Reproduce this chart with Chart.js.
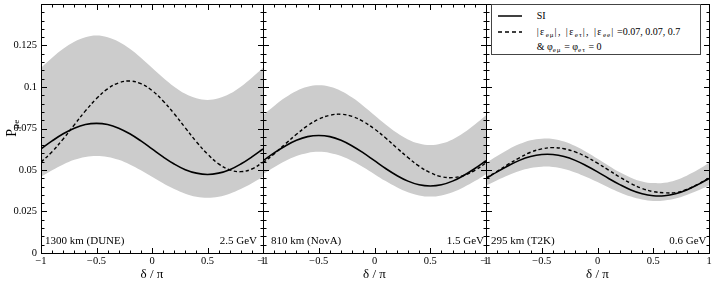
<!DOCTYPE html>
<html><head><meta charset="utf-8">
<script src="https://cdn.jsdelivr.net/npm/chart.js@4.4.0/dist/chart.umd.min.js"></script>
<style>
html,body{margin:0;padding:0;background:#fff;}
#wrap{position:relative;width:714px;height:294px;overflow:hidden;font-family:'Liberation Serif','Times New Roman',serif;color:#000;}
#wrap canvas{position:absolute;left:0;top:0;}
.lbl{position:absolute;font-size:11px;line-height:12px;white-space:nowrap;}
#ytitle{position:absolute;left:-8px;top:120px;width:40px;height:16px;line-height:16px;text-align:center;font-size:14px;transform:rotate(-90deg);white-space:nowrap;}
#ytitle sub{font-size:65%;vertical-align:-0.3em;line-height:0;letter-spacing:0.5px;}
#legend{position:absolute;left:491px;top:4px;width:208px;height:49px;border:1px solid #444;background:#fff;}
#legend .row{position:absolute;left:44.7px;font-size:10px;line-height:12px;white-space:nowrap;}
#legend sub{font-size:70%;vertical-align:-0.25em;line-height:0;letter-spacing:1px;}
#legend .g{letter-spacing:1.4px;}
</style></head><body>
<div id="wrap">
<canvas id="c1" width="714" height="294"></canvas>
<canvas id="c2" width="714" height="294"></canvas>
<canvas id="c3" width="714" height="294"></canvas>
<div id="ytitle">P<sub>μe</sub></div>
<div class="lbl" style="left:45px;top:234px">1300 km (DUNE)</div>
<div class="lbl" style="right:457px;top:234px">2.5 GeV</div>
<div class="lbl" style="left:271px;top:234px">810 km (NovA)</div>
<div class="lbl" style="right:230px;top:234px">1.5 GeV</div>
<div class="lbl" style="left:491px;top:234px">295 km (T2K)</div>
<div class="lbl" style="right:7.5px;top:234px">0.6 GeV</div>
<div id="legend">
<svg style="position:absolute;left:0;top:0" width="40" height="49">
<line x1="6" y1="11" x2="30" y2="11" stroke="#000" stroke-width="1.5"/>
<line x1="6" y1="27" x2="30" y2="27" stroke="#000" stroke-width="1.5" stroke-dasharray="4,3"/>
</svg>
<div class="row" style="top:5px">SI</div>
<div class="row" style="top:21px"><span class="g">|ε<sub>eμ</sub>|, |ε<sub>eτ</sub>|, |ε<sub>ee</sub>|</span> =0.07, 0.07, 0.7</div>
<div class="row" style="top:36px">&amp; φ<sub>eμ</sub> = φ<sub>eτ</sub> = 0</div>
</div>
</div>
<script>
// ---- data (δ/π grid and probabilities) ----
const delta = [-1,-0.9,-0.8,-0.7,-0.6,-0.5,-0.4,-0.3,-0.2,-0.1,0,0.1,0.2,0.3,0.4,0.5,0.6,0.7,0.8,0.9,1];

const duneSI   = [0.0627,0.0675,0.0718,0.0752,0.0774,0.0781,0.0774,0.0752,0.0718,0.0675,0.0627,0.0579,0.0536,0.0502,0.0481,0.0473,0.0481,0.0502,0.0536,0.0579,0.0627];
const duneNSI  = [0.0547,0.0610,0.0687,0.0772,0.0856,0.0930,0.0989,0.1025,0.1036,0.1020,0.0979,0.0916,0.0839,0.0754,0.0670,0.0596,0.0537,0.0501,0.0490,0.0506,0.0547];
const duneLow  = [0.0459,0.0498,0.0533,0.0561,0.0579,0.0585,0.0579,0.0561,0.0533,0.0498,0.0459,0.0420,0.0385,0.0357,0.0339,0.0333,0.0339,0.0357,0.0385,0.0420,0.0459];
const duneHigh = [0.1116,0.1176,0.1230,0.1273,0.1300,0.1310,0.1300,0.1273,0.1230,0.1176,0.1116,0.1056,0.1002,0.0959,0.0932,0.0922,0.0932,0.0959,0.1002,0.1056,0.1116];

const novaSI   = [0.0556,0.0603,0.0645,0.0679,0.0701,0.0708,0.0701,0.0679,0.0645,0.0603,0.0556,0.0509,0.0467,0.0433,0.0411,0.0404,0.0411,0.0433,0.0467,0.0509,0.0556];
const novaNSI  = [0.0543,0.0597,0.0657,0.0715,0.0767,0.0806,0.0830,0.0836,0.0823,0.0792,0.0747,0.0693,0.0633,0.0575,0.0523,0.0484,0.0460,0.0454,0.0467,0.0498,0.0543];
const novaLow  = [0.0475,0.0517,0.0554,0.0584,0.0603,0.0610,0.0603,0.0584,0.0554,0.0517,0.0475,0.0433,0.0396,0.0366,0.0347,0.0340,0.0347,0.0366,0.0396,0.0433,0.0475];
const novaHigh = [0.0830,0.0886,0.0936,0.0976,0.1001,0.1010,0.1001,0.0976,0.0936,0.0886,0.0830,0.0774,0.0724,0.0684,0.0659,0.0650,0.0659,0.0684,0.0724,0.0774,0.0830];

const t2kSI    = [0.0449,0.0489,0.0526,0.0558,0.0581,0.0593,0.0593,0.0581,0.0558,0.0526,0.0489,0.0449,0.0412,0.0380,0.0357,0.0345,0.0345,0.0357,0.0380,0.0412,0.0449];
const t2kNSI   = [0.0452,0.0492,0.0535,0.0573,0.0607,0.0627,0.0635,0.0628,0.0609,0.0579,0.0541,0.0499,0.0457,0.0419,0.0389,0.0370,0.0363,0.0364,0.0383,0.0414,0.0452];
const t2kLow   = [0.0407,0.0439,0.0469,0.0494,0.0512,0.0520,0.0518,0.0506,0.0485,0.0458,0.0427,0.0395,0.0365,0.0340,0.0322,0.0314,0.0317,0.0328,0.0349,0.0376,0.0407];
const t2kHigh  = [0.0542,0.0584,0.0624,0.0656,0.0679,0.0689,0.0687,0.0671,0.0644,0.0609,0.0568,0.0526,0.0486,0.0454,0.0431,0.0421,0.0423,0.0439,0.0466,0.0501,0.0542];

const xTickValues = [-1,-0.5,0,0.5,1];
const yTickValues = [0,0.025,0.05,0.075,0.1,0.125,0.15];

const FONT = "'Liberation Serif','Times New Roman',serif";
const pts = arr => delta.map((d,i)=>({x:d,y:arr[i]}));
const fmtX = v => (v<0?'\u2212':'') + String(Math.abs(v));
const fmtY = v => String(Number(v.toFixed(3)));

const framePlugin = {
  id:'frame',
  afterDraw(chart){
    const {ctx, chartArea:a, scales:{x,y}} = chart;
    const L=Math.round(a.left)+0.5, R=Math.round(a.right)+0.5, T=Math.round(a.top)+0.5, B=Math.round(a.bottom)+0.5;
    ctx.save();
    ctx.strokeStyle='#000'; ctx.lineWidth=1;
    ctx.beginPath();
    ctx.rect(L,T,R-L,B-T);
    const tick=(vx,len)=>{const p=Math.round(x.getPixelForValue(vx))+0.5; ctx.moveTo(p,B); ctx.lineTo(p,B-len); ctx.moveTo(p,T); ctx.lineTo(p,T+len);};
    const ytick=(vy,len)=>{const p=Math.round(y.getPixelForValue(vy))+0.5; ctx.moveTo(L,p); ctx.lineTo(L+len,p); ctx.moveTo(R,p); ctx.lineTo(R-len,p);};
    for(let i=-10;i<=10;i++) tick(i/10,3);
    xTickValues.forEach(v=>tick(v,5.5));
    for(let i=0;i<=30;i++) ytick(i*0.005,3);
    yTickValues.forEach(v=>ytick(v,5.5));
    ctx.stroke();
    ctx.restore();
  }
};

function makePanel(id, si, nsi, lo, hi, padLeft, padRight, showY){
  new Chart(document.getElementById(id), {
    type:'line',
    data:{datasets:[
      {label:'SI', data:pts(si), borderColor:'#000', borderWidth:1.6, pointRadius:0, fill:false, tension:0.4},
      {label:'NSI', data:pts(nsi), borderColor:'#000', borderWidth:1.4, borderDash:[3.5,2.5], pointRadius:0, fill:false, tension:0.4},
      {label:'band low', data:pts(lo), borderWidth:0, borderColor:'rgba(0,0,0,0)', pointRadius:0, fill:false, tension:0.4},
      {label:'band high', data:pts(hi), borderWidth:0, borderColor:'rgba(0,0,0,0)', backgroundColor:'#cccccc', pointRadius:0, fill:'-1', tension:0.4}
    ]},
    options:{
      responsive:false, animation:false, events:[],
      layout:{padding:{left:padLeft, right:padRight, top:4, bottom:0}},
      plugins:{legend:{display:false}, tooltip:{enabled:false}, filler:{drawTime:'beforeDatasetsDraw'}},
      scales:{
        x:{type:'linear', min:-1, max:1,
           grid:{display:false, drawTicks:false}, border:{display:false},
           ticks:{stepSize:0.5, callback:fmtX, font:{family:FONT,size:10.5}, color:'#000', padding:2, maxRotation:0, autoSkip:false},
           title:{display:true, text:'δ / π', font:{family:FONT,size:13}, color:'#000', padding:{top:0,bottom:12}},
           afterFit(s){ s.height=41; s.paddingLeft=0; s.paddingRight=0; }},
        y:{type:'linear', min:0, max:0.15, display:showY,
           grid:{display:false, drawTicks:false}, border:{display:false},
           ticks:{stepSize:0.025, callback:v=> v>0.149?null:fmtY(v), font:{family:FONT,size:10.5}, color:'#000', padding:4},
           afterFit(s){ s.width = showY ? 41 : 0; s.paddingTop=0; s.paddingBottom=0; }}
      }
    },
    plugins:[framePlugin]
  });
}

makePanel('c1', duneSI, duneNSI, duneLow, duneHigh, 0, 714-263, true);
makePanel('c2', novaSI, novaNSI, novaLow, novaHigh, 263, 714-486, false);
makePanel('c3', t2kSI, t2kNSI, t2kLow, t2kHigh, 486, 714-709, false);
</script>
</body></html>
